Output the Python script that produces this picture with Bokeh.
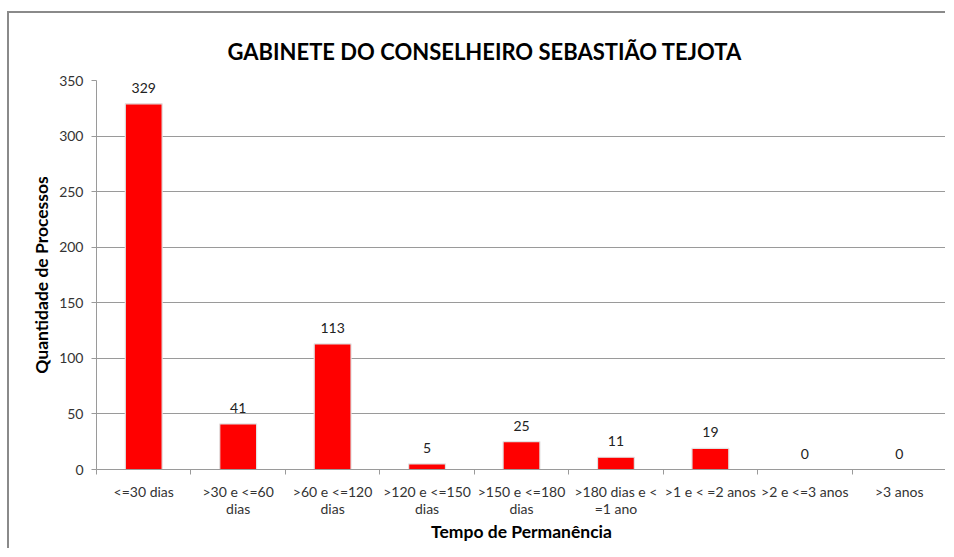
from bokeh.plotting import figure
from bokeh.models import (Range1d, LinearAxis, FixedTicker, ColumnDataSource)
from bokeh.core.properties import value
from bokeh.embed import file_html
from bokeh.resources import INLINE

title_text = "GABINETE DO CONSELHEIRO SEBASTIÃO TEJOTA"
categories = [
    "<=30 dias",
    ">30 e <=60\ndias",
    ">60 e <=120\ndias",
    ">120 e <=150\ndias",
    ">150 e <=180\ndias",
    ">180 dias e <\n=1 ano",
    ">1 e < =2 anos",
    ">2 e <=3 anos",
    ">3 anos",
]
counts = [329, 41, 113, 5, 25, 11, 19, 0, 0]
y_ticks = [0, 50, 100, 150, 200, 250, 300, 350]

FONT = "Lato"
GRID = "#9a9a9a"

ncat = len(categories)
centers = [i + 0.5 for i in range(ncat)]
edges = list(range(ncat + 1))
src = ColumnDataSource(dict(x=centers, n=counts, lbl=[str(v) for v in counts]))

p = figure(width=938, height=537, output_backend="svg", toolbar_location=None,
           x_range=Range1d(0, ncat), y_range=Range1d(0, 350),
           x_axis_location=None,
           min_border_left=87, min_border_top=67, min_border_right=1,
           min_border_bottom=81)
p.margin = (11, 0, 0, 7)
p.styles = {"border-top": "2px solid #8a8a8a", "border-left": "2px solid #8a8a8a"}
p.outline_line_color = None
p.background_fill_color = "white"
p.border_fill_color = "white"

p.title.text = title_text
p.title.text_font = FONT
p.title.text_font_size = "22px"
p.title.text_font_style = "bold"
p.title.text_color = "black"
p.title.align = "left"
p.title.vertical_align = "top"
p.title.offset = 131
p.title.standoff = 27

p.xgrid.grid_line_color = None
p.ygrid.grid_line_color = GRID
p.ygrid.grid_line_width = 1
p.yaxis.ticker = FixedTicker(ticks=y_ticks)
p.yaxis.axis_line_color = GRID
p.yaxis.major_tick_line_color = GRID
p.yaxis.major_tick_out = 5
p.yaxis.major_tick_in = 0
p.yaxis.minor_tick_line_color = None
p.yaxis.major_label_text_font = FONT
p.yaxis.major_label_text_font_size = "14px"
p.yaxis.major_label_text_color = "#333333"
p.yaxis.major_label_standoff = 8
p.yaxis.axis_label = "Quantidade de Processos"
p.yaxis.axis_label_text_font = FONT
p.yaxis.axis_label_text_font_size = "17.5px"
p.yaxis.axis_label_text_font_style = "bold"
p.yaxis.axis_label_text_color = "black"
p.yaxis.axis_label_standoff = 4

cat_axis = LinearAxis(ticker=FixedTicker(ticks=centers, minor_ticks=edges),
                      major_label_overrides={c: lab for c, lab in zip(centers, categories)},
                      axis_line_color=GRID,
                      major_tick_line_color=None, major_tick_out=0, major_tick_in=0,
                      minor_tick_line_color=GRID, minor_tick_out=5, minor_tick_in=0,
                      major_label_text_font=FONT,
                      major_label_text_font_size="14px",
                      major_label_text_line_height=1.0,
                      major_label_text_color="#333333",
                      major_label_standoff=8,
                      axis_label="Tempo de Permanência",
                      axis_label_text_font=FONT,
                      axis_label_text_font_size="17.5px",
                      axis_label_text_font_style="bold",
                      axis_label_text_color="black",
                      axis_label_standoff=1)
p.add_layout(cat_axis, "below")

p.vbar(x="x", top="n", width=0.39, source=src, fill_color="#FF0000",
       line_color="#e2e2e2", line_width=1.2)

p.text(x="x", y="n", text="lbl", source=src, text_align="center",
       text_baseline="bottom", y_offset=-11, text_font=value(FONT),
       text_font_size="14px", text_color="#222222")

open("out.html", "w").write(file_html(p, INLINE))
